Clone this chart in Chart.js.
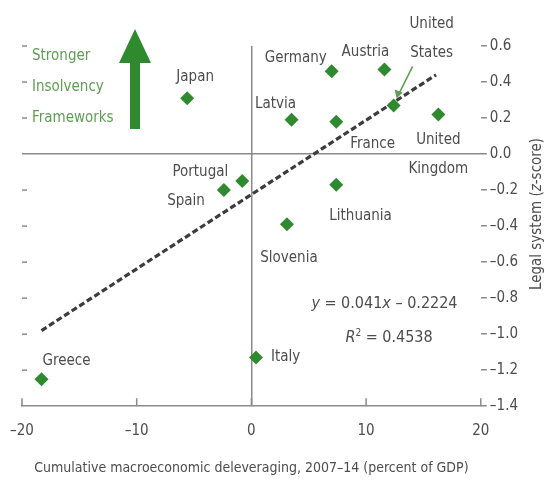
<!DOCTYPE html>
<html>
<head>
<meta charset="utf-8">
<script src="https://cdn.jsdelivr.net/npm/chart.js@4.4.0/dist/chart.umd.min.js"></script>
<style>
  html, body { margin: 0; padding: 0; background: #fff; }
  #wrap { width: 545px; height: 494px; }
</style>
</head>
<body>
<div id="wrap"><canvas id="scatter_chart"></canvas></div>
<script>
const countries = ['Japan', 'Portugal', 'Spain', 'Germany', 'Austria', 'Latvia', 'France',
  'United States', 'United Kingdom', 'Lithuania', 'Slovenia', 'Italy', 'Greece'];
const deleveraging = [-5.6, -0.8, -2.4, 7.0, 11.6, 3.5, 7.4, 12.4, 16.3, 7.4, 3.1, 0.4, -18.3];
const legalSystem = [0.31, -0.15, -0.20, 0.46, 0.47, 0.19, 0.18, 0.27, 0.22, -0.17, -0.39, -1.13, -1.25];
const trendX = [-18.3, 16.1];
const trendY = [-0.98, 0.44];
const xTicks = [-20, -10, 0, 10, 20];
const yTicks = [0.6, 0.4, 0.2, 0.0, -0.2, -0.4, -0.6, -0.8, -1.0, -1.2, -1.4];

const font = "'Liberation Sans Narrow', 'Arial Narrow', 'DejaVu Sans Condensed', sans-serif";
const textGray = '#4d4d4d';
const axisGray = '#8a8a8a';
const green = '#2f8a2f';
const lightGreen = '#5e9e52';

const dash = s => String(s).replace('-', '\u2013');

// where each country name sits relative to its marker
const spots = {
  'Japan': { dx: 8, dy: -21, align: 'center' },
  'Portugal': { dx: -14, dy: -9, align: 'right' },
  'Spain': { dx: -19, dy: 11, align: 'right' },
  'Germany': { dx: -5, dy: -13, align: 'right' },
  'Austria': { dx: -19, dy: -17, align: 'center' },
  'Latvia': { dx: -16, dy: -16, align: 'center' },
  'France': { dx: 14, dy: 22, align: 'left' },
  'United States': { dx: 38, dy: -81, align: 'center', lines: ['United', 'States'] },
  'United Kingdom': { dx: 0, dy: 26, align: 'center', lines: ['United', 'Kingdom'] },
  'Lithuania': { dx: -7, dy: 31, align: 'left' },
  'Slovenia': { dx: 2, dy: 34, align: 'center' },
  'Italy': { dx: 15, dy: 0, align: 'left' },
  'Greece': { dx: 1, dy: -18, align: 'left' }
};

function drawRuns(ctx, runs, cx, cy, size) {
  const fontFor = r => (r.italic ? 'italic ' : '') + (r.sup ? Math.round(size * 0.6) : size) + 'px ' + font;
  let total = 0;
  runs.forEach(r => { ctx.font = fontFor(r); total += ctx.measureText(r.t).width; });
  let x = cx - total / 2;
  ctx.textAlign = 'left';
  runs.forEach(r => {
    ctx.font = fontFor(r);
    ctx.fillText(r.t, x, r.sup ? cy - size * 0.3 : cy);
    x += ctx.measureText(r.t).width;
  });
}

const annotations = {
  id: 'annotations',
  afterDraw(chart) {
    const { ctx, chartArea: a, scales: { x, y } } = chart;
    ctx.save();

    // inward tick marks on the x axis and short marks on the left edge
    ctx.strokeStyle = axisGray;
    ctx.lineWidth = 1.5;
    xTicks.forEach(v => {
      const px = x.getPixelForValue(v);
      ctx.beginPath(); ctx.moveTo(px, a.bottom); ctx.lineTo(px, a.bottom - 8); ctx.stroke();
    });
    yTicks.forEach(v => {
      if (v === 0 || v === -1.4) return;
      const py = y.getPixelForValue(v);
      ctx.beginPath(); ctx.moveTo(a.left, py); ctx.lineTo(a.left + 5, py); ctx.stroke();
    });

    // country names
    ctx.fillStyle = textGray;
    ctx.font = '15px ' + font;
    ctx.textBaseline = 'middle';
    countries.forEach((c, i) => {
      const s = spots[c];
      const px = x.getPixelForValue(deleveraging[i]);
      const py = y.getPixelForValue(legalSystem[i]);
      ctx.textAlign = s.align;
      (s.lines || [c]).forEach((line, k) => ctx.fillText(line, px + s.dx, py + s.dy + k * 29));
    });

    // pointer to the United States marker
    const ui = countries.indexOf('United States');
    const ux = x.getPixelForValue(deleveraging[ui]);
    const uy = y.getPixelForValue(legalSystem[ui]);
    ctx.strokeStyle = lightGreen;
    ctx.fillStyle = lightGreen;
    ctx.lineWidth = 1.5;
    ctx.beginPath(); ctx.moveTo(ux + 19, uy - 39); ctx.lineTo(ux + 5, uy - 11); ctx.stroke();
    ctx.beginPath();
    ctx.moveTo(ux + 3, uy - 7); ctx.lineTo(ux + 1, uy - 16); ctx.lineTo(ux + 9, uy - 13);
    ctx.closePath(); ctx.fill();

    // big arrow + caption
    ctx.fillStyle = green;
    const ax = a.left + 113;
    ctx.beginPath();
    ctx.moveTo(ax, a.top - 17);
    ctx.lineTo(ax + 16, a.top + 17);
    ctx.lineTo(ax + 5, a.top + 17);
    ctx.lineTo(ax + 5, a.top + 83);
    ctx.lineTo(ax - 5, a.top + 83);
    ctx.lineTo(ax - 5, a.top + 17);
    ctx.lineTo(ax - 16, a.top + 17);
    ctx.closePath();
    ctx.fill();

    ctx.fillStyle = lightGreen;
    ctx.font = '15px ' + font;
    ctx.textAlign = 'left';
    ['Stronger', 'Insolvency', 'Frameworks'].forEach((t, k) => ctx.fillText(t, a.left + 10, a.top + 10 + k * 31));

    // regression text
    ctx.fillStyle = textGray;
    drawRuns(ctx, [{ t: 'y', italic: true }, { t: ' = 0.041' }, { t: 'x', italic: true }, { t: ' \u2013 0.2224' }],
      x.getPixelForValue(11.6), y.getPixelForValue(-0.83), 16);
    drawRuns(ctx, [{ t: 'R', italic: true }, { t: '2', sup: true }, { t: ' = 0.4538' }],
      x.getPixelForValue(12.0), y.getPixelForValue(-1.02), 16);

    // right axis title, reading bottom to top
    ctx.translate(537, 214);
    ctx.rotate(-Math.PI / 2);
    drawRuns(ctx, [{ t: 'Legal system (' }, { t: 'z', italic: true }, { t: '-score)' }], 0, 0, 15);

    ctx.restore();
  }
};

const config = {
  type: 'scatter',
  data: {
    datasets: [
      {
        label: 'Countries',
        data: deleveraging.map((v, i) => ({ x: v, y: legalSystem[i] })),
        pointStyle: 'rectRot',
        pointRadius: 7,
        pointHoverRadius: 7,
        backgroundColor: green,
        borderColor: green,
        borderWidth: 0,
        order: 0
      },
      {
        type: 'line',
        label: 'Trend',
        data: trendX.map((v, i) => ({ x: v, y: trendY[i] })),
        borderColor: '#3c3c3c',
        borderWidth: 3.2,
        borderDash: [6, 3],
        pointRadius: 0,
        fill: false,
        order: 1
      }
    ]
  },
  options: {
    responsive: true,
    maintainAspectRatio: false,
    animation: false,
    layout: { padding: { left: 22, top: 46, right: 24, bottom: 17 } },
    plugins: {
      legend: { display: false },
      tooltip: { enabled: false }
    },
    scales: {
      x: {
        type: 'linear',
        min: -20,
        max: 20,
        afterBuildTicks: axis => { axis.ticks = xTicks.map(v => ({ value: v })); },
        afterFit: axis => { axis.paddingLeft = 0; },
        ticks: {
          color: textGray,
          font: { family: font, size: 15 },
          padding: 16,
          callback: v => dash(v)
        },
        grid: {
          drawTicks: false,
          lineWidth: 1.5,
          color: c => (c.tick && c.tick.value === 0 ? axisGray : 'rgba(0,0,0,0)')
        },
        border: { display: true, color: axisGray, width: 1.5 },
        title: {
          display: true,
          text: 'Cumulative macroeconomic deleveraging, 2007\u201314 (percent of GDP)',
          color: textGray,
          font: { family: font, size: 14 },
          padding: { top: 4, bottom: 0 }
        }
      },
      y: {
        type: 'linear',
        position: 'right',
        min: -1.4,
        max: 0.6,
        afterBuildTicks: axis => { axis.ticks = yTicks.map(v => ({ value: v })); },
        ticks: {
          color: textGray,
          font: { family: font, size: 15 },
          padding: 3,
          callback: v => dash(v.toFixed(1))
        },
        grid: {
          tickLength: 6,
          tickColor: axisGray,
          lineWidth: 1.5,
          color: c => (c.tick && c.tick.value === 0 ? axisGray : 'rgba(0,0,0,0)')
        },
        border: { display: false }
      }
    }
  },
  plugins: [annotations]
};

document.addEventListener('DOMContentLoaded', () => {
  const scatter = new Chart(document.getElementById('scatter_chart').getContext('2d'), config);
});
</script>
</body>
</html>
